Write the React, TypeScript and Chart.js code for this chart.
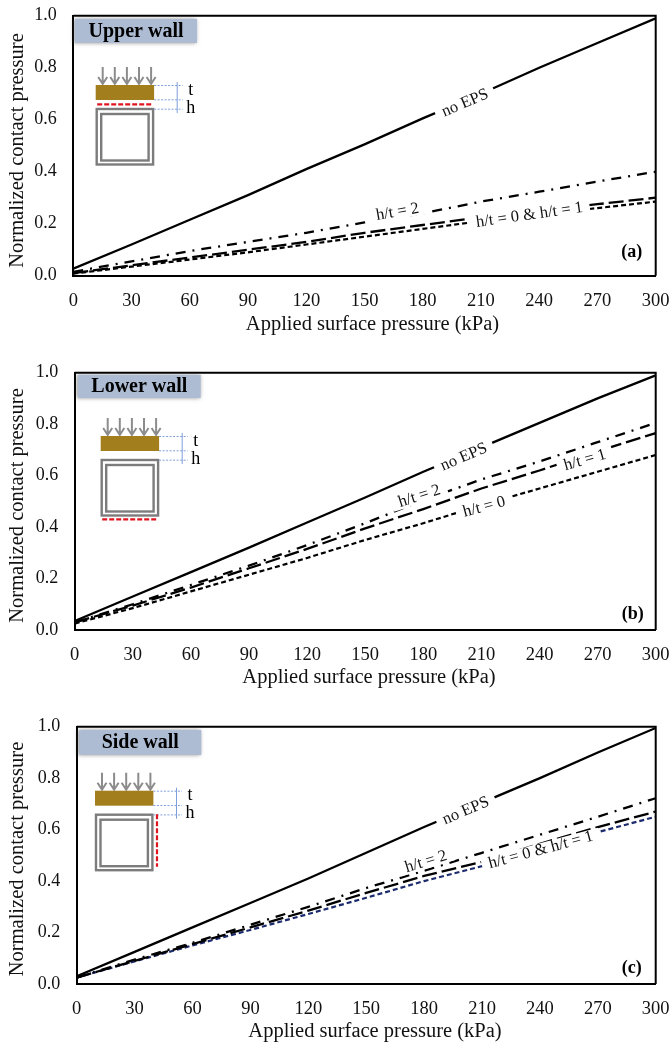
import React, { useEffect, useRef } from "react";
import { Chart, registerables } from "chart.js";

Chart.register(...registerables);

const FONT = '"Liberation Serif", serif';

const xValues = [0, 30, 60, 90, 120, 150, 180, 210, 240, 270, 300];

const aNoEps = [0.027, 0.12, 0.215, 0.31, 0.41, 0.505, 0.605, 0.7, 0.8, 0.895, 0.99];
const aH2 = [0.015, 0.055, 0.095, 0.13, 0.165, 0.205, 0.24, 0.285, 0.323, 0.362, 0.4];
const aH1 = [0.01, 0.04, 0.07, 0.1, 0.13, 0.165, 0.195, 0.225, 0.25, 0.275, 0.3];
const aH0 = [0.008, 0.035, 0.062, 0.09, 0.12, 0.15, 0.18, 0.21, 0.235, 0.26, 0.285];

const bNoEps = [0.035, 0.13, 0.225, 0.32, 0.418, 0.515, 0.615, 0.71, 0.805, 0.9, 0.99];
const bH2 = [0.03, 0.1, 0.175, 0.25, 0.33, 0.415, 0.505, 0.585, 0.655, 0.73, 0.805];
const bH1 = [0.03, 0.095, 0.165, 0.24, 0.315, 0.395, 0.47, 0.55, 0.62, 0.695, 0.765];
const bH0 = [0.025, 0.085, 0.15, 0.215, 0.28, 0.35, 0.415, 0.485, 0.55, 0.615, 0.68];

const cNoEps = [0.03, 0.125, 0.22, 0.315, 0.41, 0.51, 0.61, 0.705, 0.8, 0.9, 0.995];
const cH2 = [0.025, 0.095, 0.16, 0.23, 0.3, 0.373, 0.44, 0.51, 0.58, 0.65, 0.722];
const cH1 = [0.025, 0.09, 0.155, 0.22, 0.285, 0.354, 0.42, 0.475, 0.545, 0.61, 0.67];
const cH0 = [0.025, 0.088, 0.15, 0.21, 0.272, 0.335, 0.4, 0.458, 0.525, 0.59, 0.65];

const seriesNames = ["no EPS", "h/t = 2", "h/t = 1", "h/t = 0"];
const xAxisTitle = "Applied surface pressure (kPa)";
const yAxisTitle = "Normalized contact pressure";

const lineStyles = [
  { color: "#000", width: 2.3, dash: [] as number[] },
  { color: "#000", width: 2.3, dash: [10, 7, 2, 7] },
  { color: "#000", width: 2.3, dash: [15, 5] },
  { color: "#000", width: 2.2, dash: [5, 3] },
];

const panels = [
  {
    tag: "(a)", title: "Upper wall", red: "top",
    series: [aNoEps, aH2, aH1, aH0], h0Color: "#000",
    top: 0, height: 340, left: 73.3, right: 655.7, areaTop: 15.7, areaH: 260,
    titleBox: [75, 19, 122, 24], tagPos: [631.7, 252], inset: [95.7, 85],
    xTitlePos: [372.5, 325], yTitlePos: [18, 150.5],
    labels: [
      { text: "no EPS", x: 201.8, y: 0.664, angle: -23 },
      { text: "h/t = 2", x: 167, y: 0.245, angle: -10 },
      { text: "h/t = 0 & h/t = 1", x: 235, y: 0.233, angle: -8 },
    ],
  },
  {
    tag: "(b)", title: "Lower wall", red: "bottom",
    series: [bNoEps, bH2, bH1, bH0], h0Color: "#000",
    top: 350, height: 340, left: 74.7, right: 655.7, areaTop: 372.7, areaH: 257.3,
    titleBox: [78, 375, 122.7, 23], tagPos: [632.7, 614], inset: [100.7, 436],
    xTitlePos: [369, 678], yTitlePos: [18, 505.5],
    labels: [
      { text: "no EPS", x: 201, y: 0.672, angle: -23 },
      { text: "h/t = 2", x: 178, y: 0.52, angle: -18 },
      { text: "h/t = 1", x: 263.5, y: 0.66, angle: -16 },
      { text: "h/t = 0", x: 211.5, y: 0.478, angle: -15 },
    ],
  },
  {
    tag: "(c)", title: "Side wall", red: "side",
    series: [cNoEps, cH2, cH1, cH0], h0Color: "#1c2a6e",
    top: 700, height: 344, left: 76.7, right: 655.7, areaTop: 726.7, areaH: 257.3,
    titleBox: [79.3, 730, 122, 25], tagPos: [631.7, 968.3], inset: [95, 790.7],
    xTitlePos: [375, 1032], yTitlePos: [18, 859],
    labels: [
      { text: "no EPS", x: 201.7, y: 0.673, angle: -23 },
      { text: "h/t = 2", x: 181, y: 0.475, angle: -17 },
      { text: "h/t = 0 & h/t = 1", x: 240.5, y: 0.52, angle: -15 },
    ],
  },
];

type Panel = (typeof panels)[number];

function drawInset(ctx: CanvasRenderingContext2D, p: Panel) {
  const [ox, oy0] = p.inset;
  const oy = oy0 - p.top;
  // arrows
  ctx.strokeStyle = "#8c8c8c";
  ctx.lineWidth = 2;
  for (let i = 0; i < 5; i++) {
    const ax = ox + 7 + i * 12.1;
    ctx.beginPath();
    ctx.moveTo(ax, oy - 18);
    ctx.lineTo(ax, oy - 2);
    ctx.moveTo(ax - 4.5, oy - 8);
    ctx.lineTo(ax, oy - 1);
    ctx.lineTo(ax + 4.5, oy - 8);
    ctx.stroke();
  }
  // plate
  ctx.fillStyle = "#a27f1c";
  ctx.fillRect(ox, oy, 58.4, 15);
  // box section
  ctx.strokeStyle = "#7c7c7c";
  ctx.lineWidth = 2.4;
  ctx.strokeRect(ox + 1, oy + 24, 56.4, 55.5);
  ctx.strokeRect(ox + 5.5, oy + 29, 47.4, 46.5);
  // dimension lines
  ctx.strokeStyle = "#7f9fdc";
  ctx.lineWidth = 1;
  ctx.setLineDash([2, 1.5]);
  [0, 14.3, 23.7].forEach((d) => {
    ctx.beginPath();
    ctx.moveTo(ox + 58.4, oy + d + 0.5);
    ctx.lineTo(ox + 87, oy + d + 0.5);
    ctx.stroke();
  });
  ctx.setLineDash([]);
  ctx.beginPath();
  ctx.moveTo(ox + 81.5, oy - 3);
  ctx.lineTo(ox + 81.5, oy + 28);
  ctx.stroke();
  // t / h
  ctx.fillStyle = "#000";
  ctx.font = `18px ${FONT}`;
  ctx.textAlign = "center";
  ctx.textBaseline = "middle";
  ctx.fillText("t", ox + 95, oy + 5);
  ctx.fillText("h", ox + 95, oy + 23);
  // red dashed location
  ctx.strokeStyle = "#e0141e";
  ctx.lineWidth = 2.2;
  ctx.setLineDash([5, 2]);
  ctx.beginPath();
  if (p.red === "top") {
    ctx.moveTo(ox + 1.5, oy + 19.3);
    ctx.lineTo(ox + 56, oy + 19.3);
  } else if (p.red === "bottom") {
    ctx.moveTo(ox + 1.5, oy + 83.3);
    ctx.lineTo(ox + 56, oy + 83.3);
  } else {
    ctx.moveTo(ox + 62, oy + 23.5);
    ctx.lineTo(ox + 62, oy + 76);
  }
  ctx.stroke();
  ctx.setLineDash([]);
}

function makePlugin(p: Panel) {
  return {
    id: "decor",
    afterDatasetsDraw(chart: any) {
      const ctx: CanvasRenderingContext2D = chart.ctx;
      const a = chart.chartArea;
      const xs = chart.scales.x;
      const ys = chart.scales.y;
      ctx.save();
      // frame top and right
      ctx.strokeStyle = "#000";
      ctx.lineWidth = 2;
      ctx.beginPath();
      ctx.moveTo(a.left, a.top);
      ctx.lineTo(a.right, a.top);
      ctx.lineTo(a.right, a.bottom);
      ctx.stroke();
      // inline labels
      ctx.font = `16.5px ${FONT}`;
      ctx.textAlign = "center";
      ctx.textBaseline = "middle";
      p.labels.forEach((l) => {
        const w = ctx.measureText(l.text).width;
        ctx.save();
        ctx.translate(xs.getPixelForValue(l.x), ys.getPixelForValue(l.y));
        ctx.rotate((l.angle * Math.PI) / 180);
        ctx.fillStyle = "#fff";
        ctx.fillRect(-w / 2 - 7, -7, w + 14, 14);
        ctx.fillStyle = "#111";
        ctx.fillText(l.text, 0, 0);
        ctx.restore();
      });
      // axis titles
      ctx.fillStyle = "#111";
      ctx.font = `20.5px ${FONT}`;
      ctx.fillText(xAxisTitle, p.xTitlePos[0], p.xTitlePos[1] - p.top);
      ctx.save();
      ctx.translate(p.yTitlePos[0], p.yTitlePos[1] - p.top);
      ctx.rotate(-Math.PI / 2);
      ctx.fillText(yAxisTitle, 0, 0);
      ctx.restore();
      // panel tag
      ctx.fillStyle = "#000";
      ctx.font = `bold 18px ${FONT}`;
      ctx.fillText(p.tag, p.tagPos[0], p.tagPos[1] - p.top);
      // title box
      const [bx, by, bw, bh] = p.titleBox;
      ctx.save();
      ctx.shadowColor = "rgba(60,60,60,0.55)";
      ctx.shadowBlur = 4;
      ctx.shadowOffsetX = -1;
      ctx.shadowOffsetY = 0;
      ctx.fillStyle = "#aebcd3";
      ctx.fillRect(bx, by - p.top, bw, bh);
      ctx.restore();
      ctx.fillStyle = "#000";
      ctx.font = `bold 20px ${FONT}`;
      ctx.fillText(p.title, bx + bw / 2, by - p.top + bh / 2 + 0.5);
      drawInset(ctx, p);
      ctx.restore();
    },
  };
}

function PanelChart({ p }: { p: Panel }) {
  const ref = useRef<HTMLCanvasElement>(null);
  useEffect(() => {
    const padTop = p.areaTop - p.top;
    const xAxisH = p.height - padTop - p.areaH;
    const chart = new Chart(ref.current!, {
      type: "line",
      data: {
        labels: xValues,
        datasets: p.series.map((vals, i) => ({
          label: seriesNames[i],
          data: vals.map((y, k) => ({ x: xValues[k], y })),
          borderColor: i === 3 ? p.h0Color : lineStyles[i].color,
          borderWidth: lineStyles[i].width,
          borderDash: lineStyles[i].dash,
          pointRadius: 0,
          tension: 0,
          fill: false,
        })),
      },
      options: {
        animation: false,
        responsive: false,
        layout: { padding: { top: padTop, right: 672 - p.right, left: 0, bottom: 0 } },
        plugins: { legend: { display: false }, tooltip: { enabled: false } },
        scales: {
          x: {
            type: "linear",
            min: 0,
            max: 300,
            afterFit: (s: any) => {
              s.height = xAxisH;
              s.paddingLeft = 0;
              s.paddingRight = 0;
            },
            grid: { display: false, drawTicks: false },
            border: { color: "#000", width: 2 },
            ticks: {
              stepSize: 30,
              maxRotation: 0,
              autoSkip: false,
              padding: 14,
              color: "#111",
              font: { family: FONT, size: 18.5 },
            },
          },
          y: {
            type: "linear",
            min: 0,
            max: 1,
            afterFit: (s: any) => {
              s.width = p.left;
              s.paddingTop = 0;
              s.paddingBottom = 0;
            },
            grid: { display: false, drawTicks: false },
            border: { color: "#000", width: 2 },
            ticks: {
              stepSize: 0.2,
              padding: 16.5,
              color: "#111",
              font: { family: FONT, size: 18 },
              callback: (v: any) => Number(v).toFixed(1),
            },
          },
        },
      } as any,
      plugins: [makePlugin(p)],
    } as any);
    return () => chart.destroy();
  }, [p]);
  return (
    <canvas
      ref={ref}
      width={672}
      height={p.height}
      style={{
        position: "absolute",
        left: 0,
        top: p.top,
        width: 672,
        height: p.height,
        filter: "blur(0.35px)",
      }}
    />
  );
}

export default function App() {
  return (
    <div style={{ position: "absolute", left: 0, top: 0, width: 672, height: 1044, overflow: "hidden", background: "#fff" }}>
      {panels.map((p) => (
        <PanelChart key={p.tag} p={p} />
      ))}
    </div>
  );
}
